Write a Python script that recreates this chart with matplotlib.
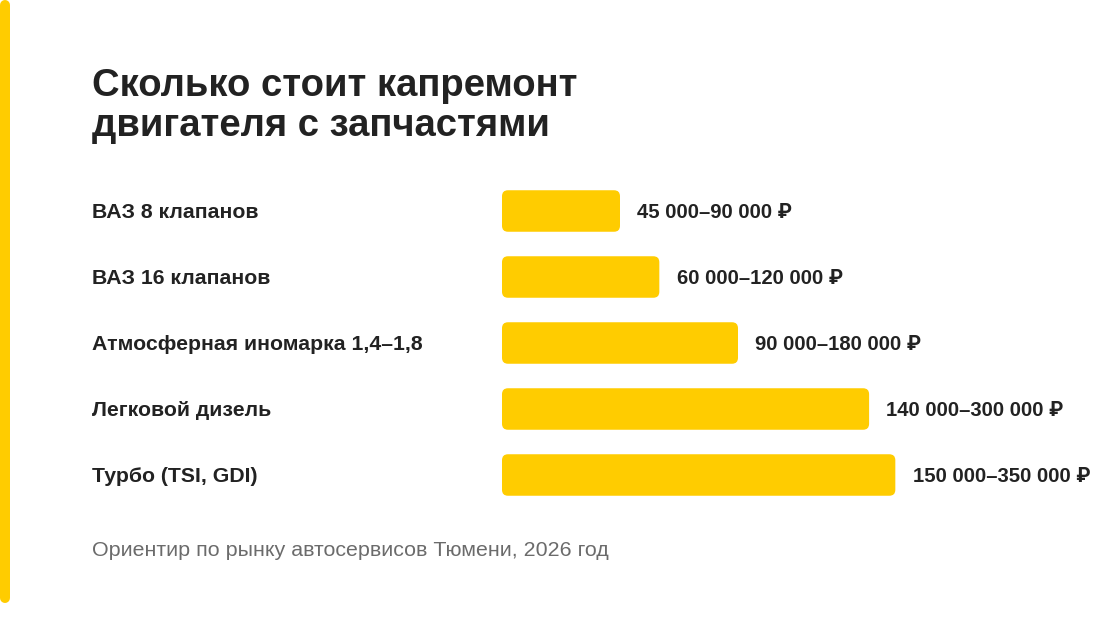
import matplotlib
matplotlib.use("Agg")
import matplotlib.pyplot as plt
from matplotlib.patches import FancyBboxPatch
from matplotlib.lines import Line2D
import matplotlib.transforms as mtransforms

plt.rcParams['font.family'] = ['Liberation Sans', 'Roboto', 'DejaVu Sans']

# данные
title_lines = ["Сколько стоит капремонт", "двигателя с запчастями"]
categories = ["ВАЗ 8 клапанов", "ВАЗ 16 клапанов", "Атмосферная иномарка 1,4–1,8",
              "Легковой дизель", "Турбо (TSI, GDI)"]
bar_values = [90, 120, 180, 280, 300]   # тыс. руб., длина полосы
range_labels = ["45 000–90 000 ₽", "60 000–120 000 ₽", "90 000–180 000 ₽",
                "140 000–300 000 ₽", "150 000–350 000 ₽"]
footnote = "Ориентир по рынку автосервисов Тюмени, 2026 год"

W, H = 1100, 644
YELLOW = "#FFCC00"
DARK = "#222222"
GREY = "#6b6b6b"

fig = plt.figure(figsize=(W / 100, H / 100), dpi=100)
fig.patch.set_facecolor("white")


def fx(px):
    return px / W


def fy(py):
    return 1 - py / H


# жёлтая полоса слева
fig.add_artist(Line2D([fx(5), fx(5)], [fy(5), fy(598)], transform=fig.transFigure,
                      color=YELLOW, linewidth=7.2, solid_capstyle="round"))

# заголовок
for i, line in enumerate(title_lines):
    fig.text(fx(92), fy(96 + 40 * i), line, fontsize=27.5, fontweight="bold",
             color=DARK, va="baseline", ha="left")

# область полос
px_per_unit = 118 / 90
ax_left, ax_top, ax_bottom = 502, 178, 508
ax = fig.add_axes([fx(ax_left), fy(ax_bottom), (W - ax_left) / W, (ax_bottom - ax_top) / H])
ax.set_xlim(0, (W - ax_left) / px_per_unit)
ax.set_ylim(len(categories) - 0.5, -0.5)
ax.axis("off")

slot_px = (ax_bottom - ax_top) / len(categories)
bar_h = 41.5 / slot_px
aspect = px_per_unit / slot_px
radius = 6 / px_per_unit

bars = ax.barh(range(len(categories)), bar_values, height=bar_h, color=YELLOW)
for b in bars:
    x0, y0 = b.get_x(), b.get_y()
    w, h = b.get_width(), b.get_height()
    b.remove()
    ax.add_patch(FancyBboxPatch((x0, y0), w, h,
                                boxstyle=f"round,pad=0,rounding_size={radius}",
                                mutation_aspect=aspect, facecolor=YELLOW,
                                edgecolor="none"))

blend = mtransforms.blended_transform_factory(fig.transFigure, ax.transData)
for i, (cat, val, lab) in enumerate(zip(categories, bar_values, range_labels)):
    ax.annotate(cat, xy=(fx(92), i), xycoords=blend, xytext=(0, -5.1),
                textcoords="offset points", fontsize=15.3, fontweight="bold",
                color=DARK, va="baseline", ha="left", annotation_clip=False)
    ax.annotate(lab, xy=(val, i), xytext=(12.5, -5.0), textcoords="offset points",
                fontsize=14.6, fontweight="bold", color=DARK, va="baseline",
                ha="left", annotation_clip=False)

fig.text(fx(92), fy(556), footnote, fontsize=15.4, color=GREY, va="baseline", ha="left")

fig.savefig("out.png", dpi=100, facecolor="white")
